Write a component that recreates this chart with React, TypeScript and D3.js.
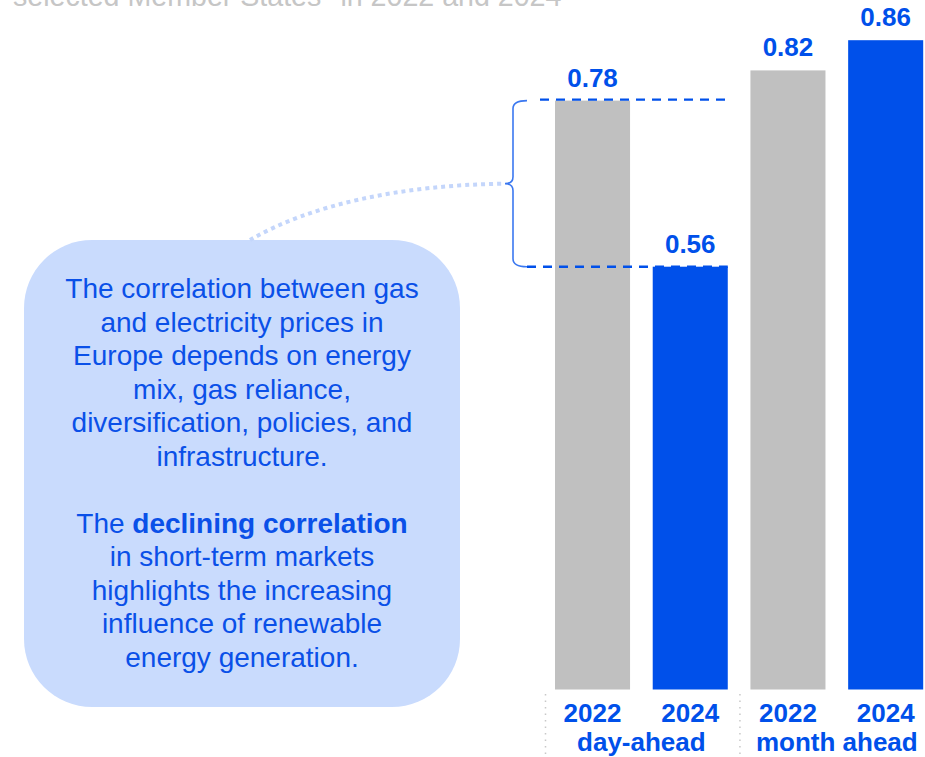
import React from "react";
import * as d3 from "d3";

const categories = ["2022|day-ahead", "2024|day-ahead", "2022|month ahead", "2024|month ahead"];
const years = ["2022", "2024", "2022", "2024"];
const values = [0.78, 0.56, 0.82, 0.86];
const seriesKind = ["prev", "curr", "prev", "curr"];
const groups = ["day-ahead", "month ahead"];
const titleText = "selected Member States* in 2022 and 2024";
const noteLines1 = [
  "The correlation between gas",
  "and electricity prices in",
  "Europe depends on energy",
  "mix, gas reliance,",
  "diversification, policies, and",
  "infrastructure.",
];
const noteLines2 = [
  "in short-term markets",
  "highlights the increasing",
  "influence of renewable",
  "energy generation.",
];

const W = 925;
const H = 757;
const FONT = "Arial, 'Liberation Sans', Helvetica, sans-serif";
const BLUE = "#0050ea";
const GRAY = "#c0c0c0";
const TEXTBLUE = "#0a50e8";

export default function App() {
  const x = d3.scaleBand<string>().domain(categories).range([555, 923.2]).paddingInner(0.232).paddingOuter(0);
  const y = d3.scaleLinear().domain([0, 1]).range([689.5, -65.5]);
  const bw = x.bandwidth();
  const cx = (i: number) => (x(categories[i]) as number) + bw / 2;

  const refTop = y(values[0]);
  const refBot = y(values[1]);
  const braceX = 513;
  const braceMid = (refTop + refBot) / 2;

  const brace = `M 527 ${refTop} Q ${braceX} ${refTop} ${braceX} ${refTop + 8} L ${braceX} ${braceMid - 7} Q ${braceX} ${braceMid} ${braceX - 8} ${braceMid} Q ${braceX} ${braceMid} ${braceX} ${braceMid + 7} L ${braceX} ${refBot - 8} Q ${braceX} ${refBot} 527 ${refBot}`;

  const curvePath = `M 250 240 C 310 205 400 185 ${braceX - 8} ${braceMid}`;

  const sepX = [(x(categories[0]) as number) - 9.5, (x(categories[2]) as number) - 10.5];

  const lineH = 33.5;
  const noteX = 242;
  const noteY0 = 298;

  return (
    <svg width={W} height={H} style={{ position: "absolute", left: 0, top: 0, background: "#fff" }} fontFamily={FONT}>
      <text x={13} y={5.5} fontSize={28.6} fill="#c6c6c6">{titleText}</text>

      {/* callout bubble */}
      <rect x={24} y={240} width={436} height={467} rx={68} ry={68} fill="#c9dbfd" />
      <path d={curvePath} fill="none" stroke="#c4d6fb" strokeWidth={4} strokeDasharray="4 4" />
      {noteLines1.map((t, i) => (
        <text key={"a" + i} x={noteX} y={noteY0 + i * lineH} textAnchor="middle" fontSize={28} fill={TEXTBLUE}>{t}</text>
      ))}
      <text x={noteX} y={noteY0 + 7 * lineH} textAnchor="middle" fontSize={28} fill={TEXTBLUE}>
        The <tspan fontWeight="bold">declining correlation</tspan>
      </text>
      {noteLines2.map((t, i) => (
        <text key={"b" + i} x={noteX} y={noteY0 + (8 + i) * lineH} textAnchor="middle" fontSize={28} fill={TEXTBLUE}>{t}</text>
      ))}

      {/* bars */}
      {categories.map((c, i) => (
        <rect key={c} x={x(c)} y={y(values[i])} width={bw} height={y(0) - y(values[i])} fill={seriesKind[i] === "prev" ? GRAY : BLUE} />
      ))}
      {categories.map((c, i) => (
        <text key={"v" + c} x={cx(i)} y={y(values[i]) - 14} textAnchor="middle" fontSize={26} fontWeight="bold" fill={BLUE}>
          {values[i].toFixed(2)}
        </text>
      ))}

      {/* reference dashed lines and brace */}
      <line x1={540} x2={(x(categories[1]) as number) + bw} y1={refTop - 1} y2={refTop - 1} stroke={BLUE} strokeWidth={2.4} strokeDasharray="9 7" />
      <line x1={527} x2={(x(categories[1]) as number) + bw} y1={refBot} y2={refBot} stroke={BLUE} strokeWidth={2.4} strokeDasharray="9 7" />
      <path d={brace} fill="none" stroke="#3b78f0" strokeWidth={1.6} />

      {/* axis labels */}
      {categories.map((c, i) => (
        <text key={"y" + c} x={cx(i)} y={722} textAnchor="middle" fontSize={26} fontWeight="bold" fill={BLUE}>{years[i]}</text>
      ))}
      {groups.map((g, gi) => (
        <text key={g} x={(cx(gi * 2) + cx(gi * 2 + 1)) / 2} y={750.5} textAnchor="middle" fontSize={26} fontWeight="bold" fill={BLUE}>{g}</text>
      ))}
      {sepX.map((sx, i) => (
        <line key={"s" + i} x1={sx} x2={sx} y1={694} y2={757} stroke="#c8c8c8" strokeWidth={1.5} strokeDasharray="1.5 5" />
      ))}
    </svg>
  );
}
